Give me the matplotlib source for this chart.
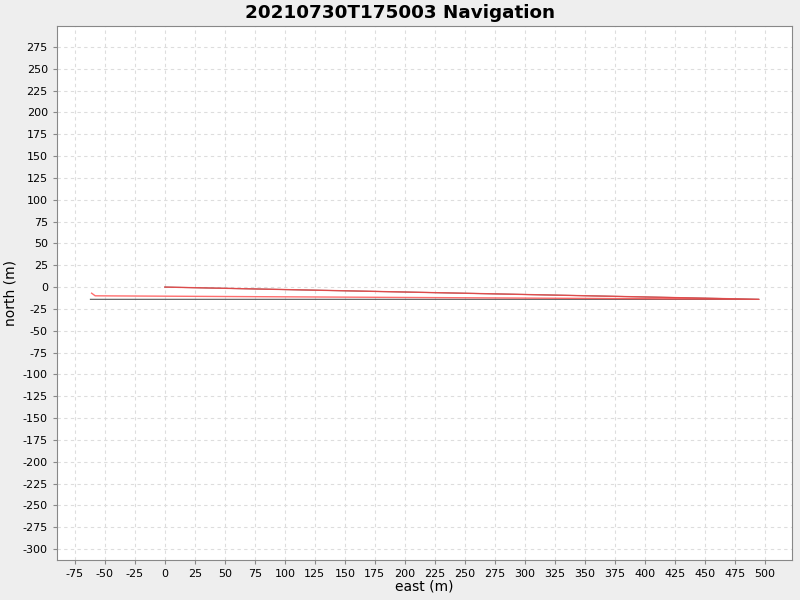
import numpy as np
import matplotlib
matplotlib.use("Agg")
import matplotlib.pyplot as plt
from matplotlib.ticker import MultipleLocator

plt.rcParams["axes.unicode_minus"] = False

title = "20210730T175003 Navigation"

# planned track (grey)
plan_east = [0, 495, -62]
plan_north = [0, -14, -14]

# actual track (red)
nav_east = [0, 495, -58, -61]
nav_north = [0, -14, -10, -7]

fig = plt.figure(figsize=(8, 6), dpi=100, facecolor="#eeeeee")
ax = fig.add_axes([0.071, 0.0667, 0.919, 0.89])
ax.set_facecolor("white")

ax.plot(plan_east, plan_north, color="#555555", lw=0.8)
ax.plot(nav_east, nav_north, color="#ff4848", lw=1.0, alpha=0.8)

ax.set_xlim(-90, 522.5)
ax.set_ylim(-312.5, 299)
ax.xaxis.set_major_locator(MultipleLocator(25))
ax.yaxis.set_major_locator(MultipleLocator(25))
ax.grid(True, color="#dddddd", linestyle=(0, (3, 3)), lw=0.8)
ax.set_axisbelow(True)
for s in ax.spines.values():
    s.set_color("#888888")
ax.tick_params(labelsize=8, colors="#888888", labelcolor="black", length=3)

ax.set_xlabel("east (m)", fontsize=10)
ax.set_ylabel("north (m)", fontsize=10)
ax.xaxis.set_label_coords(0.5, -0.036)
ax.yaxis.set_label_coords(-0.053, 0.5)
fig.suptitle(title, fontsize=13.2, fontweight="bold", y=0.993)

fig.savefig("out.png", dpi=100, facecolor=fig.get_facecolor())
